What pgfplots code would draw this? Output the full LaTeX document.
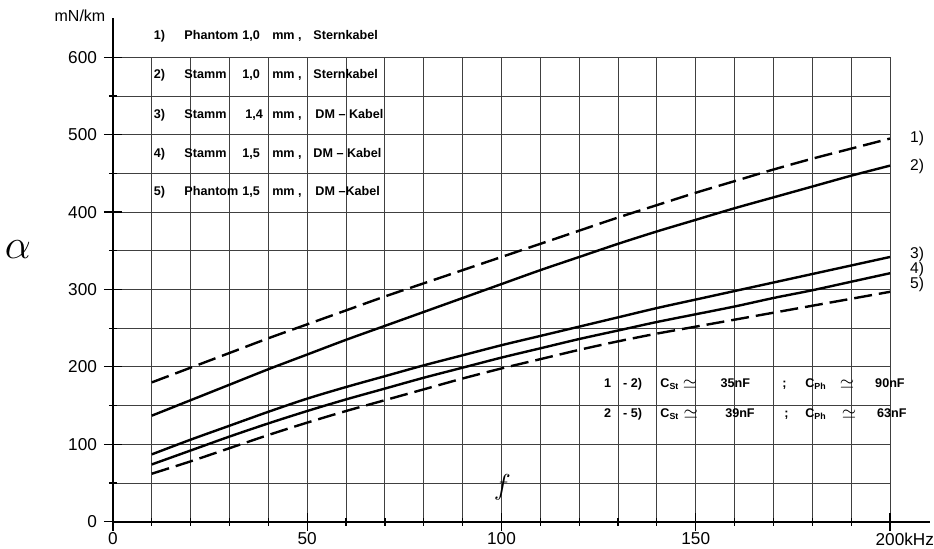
\documentclass[border=0pt]{standalone}
\usepackage{fontspec}
\setmainfont{Liberation Sans}
\usepackage{pgfplots}
\pgfplotsset{compat=1.18}
\begin{document}
\begin{tikzpicture}
\begin{axis}[
 x=1.9425pt, y=0.387pt,
 xmin=0, xmax=200, ymin=0, ymax=600,
 axis x line=bottom, axis y line=left,
 axis line style={-, line width=1pt},
 xtick={0,50,100,150,200},
 xticklabels={0,50,100,150,{200\rlap{kHz}}},
 minor x tick num=4,
 ytick={0,100,...,600},
 minor y tick num=1,
 grid=both,
 major grid style={black!75, line width=0.45pt},
 minor grid style={black!75, line width=0.45pt},
 tick align=center,
 major tick length=9pt, minor tick length=4pt,
 tick style={black, line width=0.6pt},
 ticklabel style={font=\fontsize{8.6}{9}\selectfont},
 xticklabel style={yshift=2.6pt},
 /pgf/number format/assume math mode=true,
 clip=false,
]
\coordinate (O) at (axis cs:0,0);
\draw[line width=1pt] (axis cs:0,600) -- (axis cs:0,651);
\draw[line width=1pt] (axis cs:200,0) -- (axis cs:210.3,0);

% 1) Phantom 1,0 mm Sternkabel (dashed)
\addplot[black, line width=1.2pt, dash pattern=on 9pt off 3.5pt, smooth] coordinates {
(10,180) (20,199) (30,218) (40,237) (50,255) (60,273) (70,291) (80,308) (90,325) (100,342)
(110,359) (120,376) (130,393) (140,409) (150,425) (160,440) (170,455) (180,469) (190,482) (200,495)};
% 2) Stamm 1,0 mm Sternkabel
\addplot[black, line width=1.2pt, smooth] coordinates {
(10,137) (20,157) (30,177) (40,197) (50,216) (60,235) (70,253) (80,271) (90,289) (100,307)
(110,325) (120,342) (130,359) (140,375) (150,390) (160,405) (170,419) (180,433) (190,447) (200,460)};
% 3) Stamm 1,4 mm DM-Kabel
\addplot[black, line width=1.2pt, smooth] coordinates {
(10,87) (20,106) (30,124) (40,142) (50,159) (60,174) (70,188) (80,202) (90,215) (100,228)
(110,240) (120,252) (130,264) (140,276) (150,287) (160,298) (170,309) (180,320) (190,331) (200,342)};
% 4) Stamm 1,5 mm DM-Kabel
\addplot[black, line width=1.2pt, smooth] coordinates {
(10,74) (20,92) (30,110) (40,127) (50,143) (60,158) (70,172) (80,186) (90,199) (100,212)
(110,224) (120,236) (130,247) (140,258) (150,268) (160,278) (170,289) (180,299) (190,310) (200,321)};
% 5) Phantom 1,5 mm DM-Kabel (dashed)
\addplot[black, line width=1.2pt, dash pattern=on 9pt off 3.5pt, smooth] coordinates {
(10,62) (20,78) (30,95) (40,112) (50,128) (60,143) (70,157) (80,171) (90,185) (100,198)
(110,210) (120,222) (130,233) (140,243) (150,252) (160,261) (170,270) (180,279) (190,288) (200,297)};

% legend table
\begin{scope}[every node/.style={anchor=west, inner sep=0pt, text height=4.6pt, text depth=1.4pt, font=\fontsize{6.3}{7}\selectfont\bfseries}]
\node at (axis cs:10.4,627) {1)};
\node at (axis cs:18.3,627) {Phantom};
\node at (axis cs:33.2,627) {1,0};
\node at (axis cs:40.9,627) {mm ,};
\node at (axis cs:51.5,627) {Sternkabel};
\node at (axis cs:10.4,577) {2)};
\node at (axis cs:18.3,577) {Stamm};
\node at (axis cs:33.2,577) {1,0};
\node at (axis cs:40.9,577) {mm ,};
\node at (axis cs:51.5,577) {Sternkabel};
\node at (axis cs:10.4,525) {3)};
\node at (axis cs:18.3,525) {Stamm};
\node at (axis cs:34.0,525) {1,4};
\node at (axis cs:40.9,525) {mm ,};
\node at (axis cs:52.0,525) {DM -- Kabel};
\node at (axis cs:10.4,475) {4)};
\node at (axis cs:18.3,475) {Stamm};
\node at (axis cs:33.2,475) {1,5};
\node at (axis cs:40.9,475) {mm ,};
\node at (axis cs:51.5,475) {DM -- Kabel};
\node at (axis cs:10.4,426) {5)};
\node at (axis cs:18.3,426) {Phantom};
\node at (axis cs:33.2,426) {1,5};
\node at (axis cs:40.9,426) {mm ,};
\node at (axis cs:52.0,426) {DM --Kabel};
% capacitance notes
\node at (axis cs:126.3,178) {1};
\node at (axis cs:131.2,178) {- 2)};
\node at (axis cs:140.8,178) {C\textsubscript{St}};
\node at (axis cs:156.3,178) {35nF};
\node at (axis cs:172.2,178) {;};
\node at (axis cs:178.1,178) {C\textsubscript{Ph}};
\node at (axis cs:196.1,178) {90nF};
\node at (axis cs:126.3,139) {2};
\node at (axis cs:131.2,139) {- 5)};
\node at (axis cs:140.8,139) {C\textsubscript{St}};
\node at (axis cs:157.5,139) {39nF};
\node at (axis cs:172.7,139) {;};
\node at (axis cs:178.1,139) {C\textsubscript{Ph}};
\node at (axis cs:196.6,139) {63nF};
\end{scope}
\begin{scope}[every node/.style={anchor=west, inner sep=0pt, font=\fontsize{9.5}{10}\selectfont}]
\node at (axis cs:146.6,178) {$\simeq$};
\node at (axis cs:187.0,178) {$\simeq$};
\node at (axis cs:146.8,139) {$\simeq$};
\node at (axis cs:187.5,139) {$\simeq$};
\end{scope}

% curve labels at right
\begin{scope}[every node/.style={anchor=west, inner sep=0pt, font=\fontsize{7.8}{8}\selectfont}]
\node at (axis cs:205.1,495) {1)};
\node at (axis cs:205.1,459) {2)};
\node at (axis cs:205.1,345) {3)};
\node at (axis cs:205.1,325.5) {4)};
\node at (axis cs:205.1,306) {5)};
\end{scope}

% axis labels
\node[inner sep=0pt, font=\fontsize{8}{9}\selectfont] at (axis cs:-8.5,653.5) {mN/km};
\node[inner sep=0pt] at (axis cs:-24.5,351) {\fontsize{20}{20}\selectfont$\alpha$};
\node[inner sep=0pt] at (axis cs:100.2,45) {\fontsize{14}{14}\selectfont$f$};
\end{axis}
\pgfresetboundingbox
\useasboundingbox (O) ++(-56.5pt,-13.65pt) rectangle ++(467pt,274.5pt);
\end{tikzpicture}
\end{document}
